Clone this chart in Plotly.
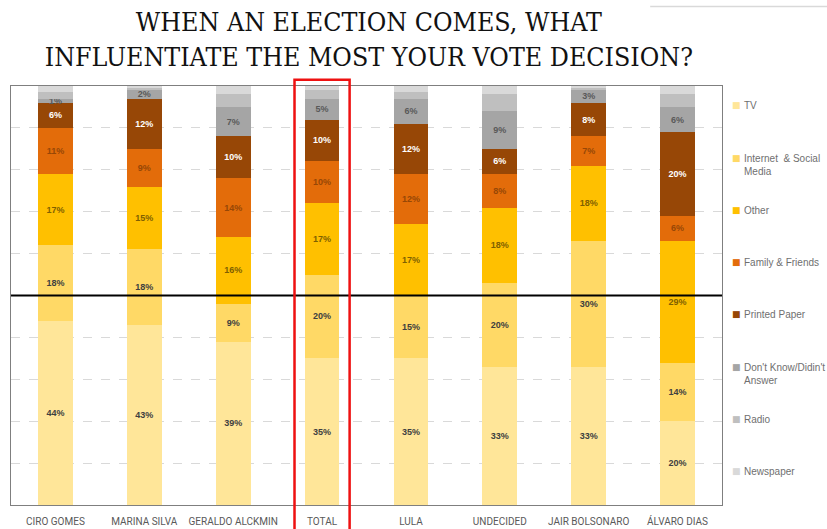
import plotly.graph_objects as go

categories = ["CIRO GOMES", "MARINA SILVA", "GERALDO ALCKMIN", "TOTAL",
              "LULA", "UNDECIDED", "JAIR BOLSONARO", "ÁLVARO DIAS"]
tv = [44, 43, 39, 35, 35, 33, 33, 20]
internet = [18, 18, 9, 20, 15, 20, 30, 14]
other = [17, 15, 16, 17, 17, 18, 18, 29]
family = [11, 9, 14, 10, 12, 8, 7, 6]
printed = [6, 12, 10, 10, 12, 6, 8, 20]
dont_know = [1, 2, 7, 5, 6, 9, 3, 6]
radio = [1.5, 0.5, 3, 2, 1.5, 4, 0.5, 3]
newspaper = [1.5, 0.5, 2, 1, 1.5, 2, 0.5, 2]

series_names = ["TV", "Internet  & Social<br>Media", "Other", "Family & Friends",
                "Printed Paper", "Don't Know/Didin't<br>Answer", "Radio", "Newspaper"]
series_values = [tv, internet, other, family, printed, dont_know, radio, newspaper]
series_colors = ["#FFE699", "#FFD966", "#FFC000", "#E36C0A",
                 "#974706", "#A5A5A5", "#BFBFBF", "#D9D9D9"]
label_colors = ["#404040", "#404040", "#7F6000", "#974706",
                "#FFFFFF", "#595959", None, None]

fig = go.Figure()
for name, vals, col, lcol in zip(series_names, series_values, series_colors, label_colors):
    fig.add_trace(go.Bar(
        x=categories, y=vals, name=name.replace("<br>", " "),
        marker=dict(color=col, line=dict(width=0)),
        text=[f"{v}%" for v in vals] if lcol else None,
        textposition="inside" if lcol else "none",
        insidetextanchor="middle", textangle=0,
        textfont=dict(family="Liberation Sans, Arial, sans-serif", size=9,
                      color=lcol or "#000", weight="bold"),
        hoverinfo="skip", showlegend=False,
    ))

# 50% reference line
fig.add_shape(type="line", xref="paper", yref="y", x0=0, x1=1, y0=50, y1=50,
              line=dict(color="#000000", width=2), layer="above")
# red box around TOTAL
idx = categories.index("TOTAL")
fig.add_shape(type="rect", xref="x", yref="paper", x0=idx - 0.31, x1=idx + 0.31,
              y0=-0.06, y1=1.015, line=dict(color="#EE1111", width=2.5),
              fillcolor="rgba(0,0,0,0)", layer="above")
# decorative line top right
fig.add_shape(type="line", xref="paper", yref="paper", x0=0.899, x1=1.15,
              y0=1.19, y1=1.19, line=dict(color="#D9D9D9", width=1.5))

# legend drawn as annotations
leg_y_px = [105, 158, 210, 262, 314, 367, 419, 471]
plot_top, plot_bot = 86, 505
for name, col, ypx in zip(series_names, series_colors, leg_y_px):
    yp = (plot_bot - ypx) / (plot_bot - plot_top)
    fig.add_annotation(xref="paper", yref="paper", x=1.021, y=yp, text="■",
                       showarrow=False, xanchor="center", yanchor="middle",
                       font=dict(size=9, color=col, family="DejaVu Sans"))
    fig.add_annotation(xref="paper", yref="paper", x=1.0275, y=yp, text=name,
                       showarrow=False, xanchor="left", yanchor="top", align="left",
                       yshift=7,
                       font=dict(size=10, color="#6F6F6F",
                                 family="Liberation Sans, Arial, sans-serif"))

fig.update_layout(
    width=827, height=529,
    margin=dict(l=11, r=105, t=86, b=24, autoexpand=False),
    paper_bgcolor="white", plot_bgcolor="white",
    barmode="stack", bargap=0.61,
    title=dict(text="WHEN AN ELECTION COMES, WHAT<br>INFLUENTIATE THE MOST YOUR VOTE DECISION?",
               x=0.446, xanchor="center", y=0.9405, yanchor="middle",
               font=dict(family="DejaVu Serif Condensed, serif",
                         size=26.5, color="#111111")),
    uniformtext=dict(minsize=9, mode="show"),
    showlegend=False,
    xaxis=dict(showgrid=False, showline=True, mirror=True, linecolor="#7F7F7F",
               linewidth=1, ticks="", zeroline=False, ticklabelstandoff=7,
               automargin=False,
               tickfont=dict(family="Roboto, sans-serif",
                             size=10, color="#595959")),
    yaxis=dict(range=[0, 100], dtick=10, showgrid=True, gridcolor="#D9D9D9",
               griddash="dash", showticklabels=False, showline=True, mirror=True,
               linecolor="#7F7F7F", linewidth=1, ticks="", zeroline=False,
               automargin=False),
)

fig.write_html("out.html")
